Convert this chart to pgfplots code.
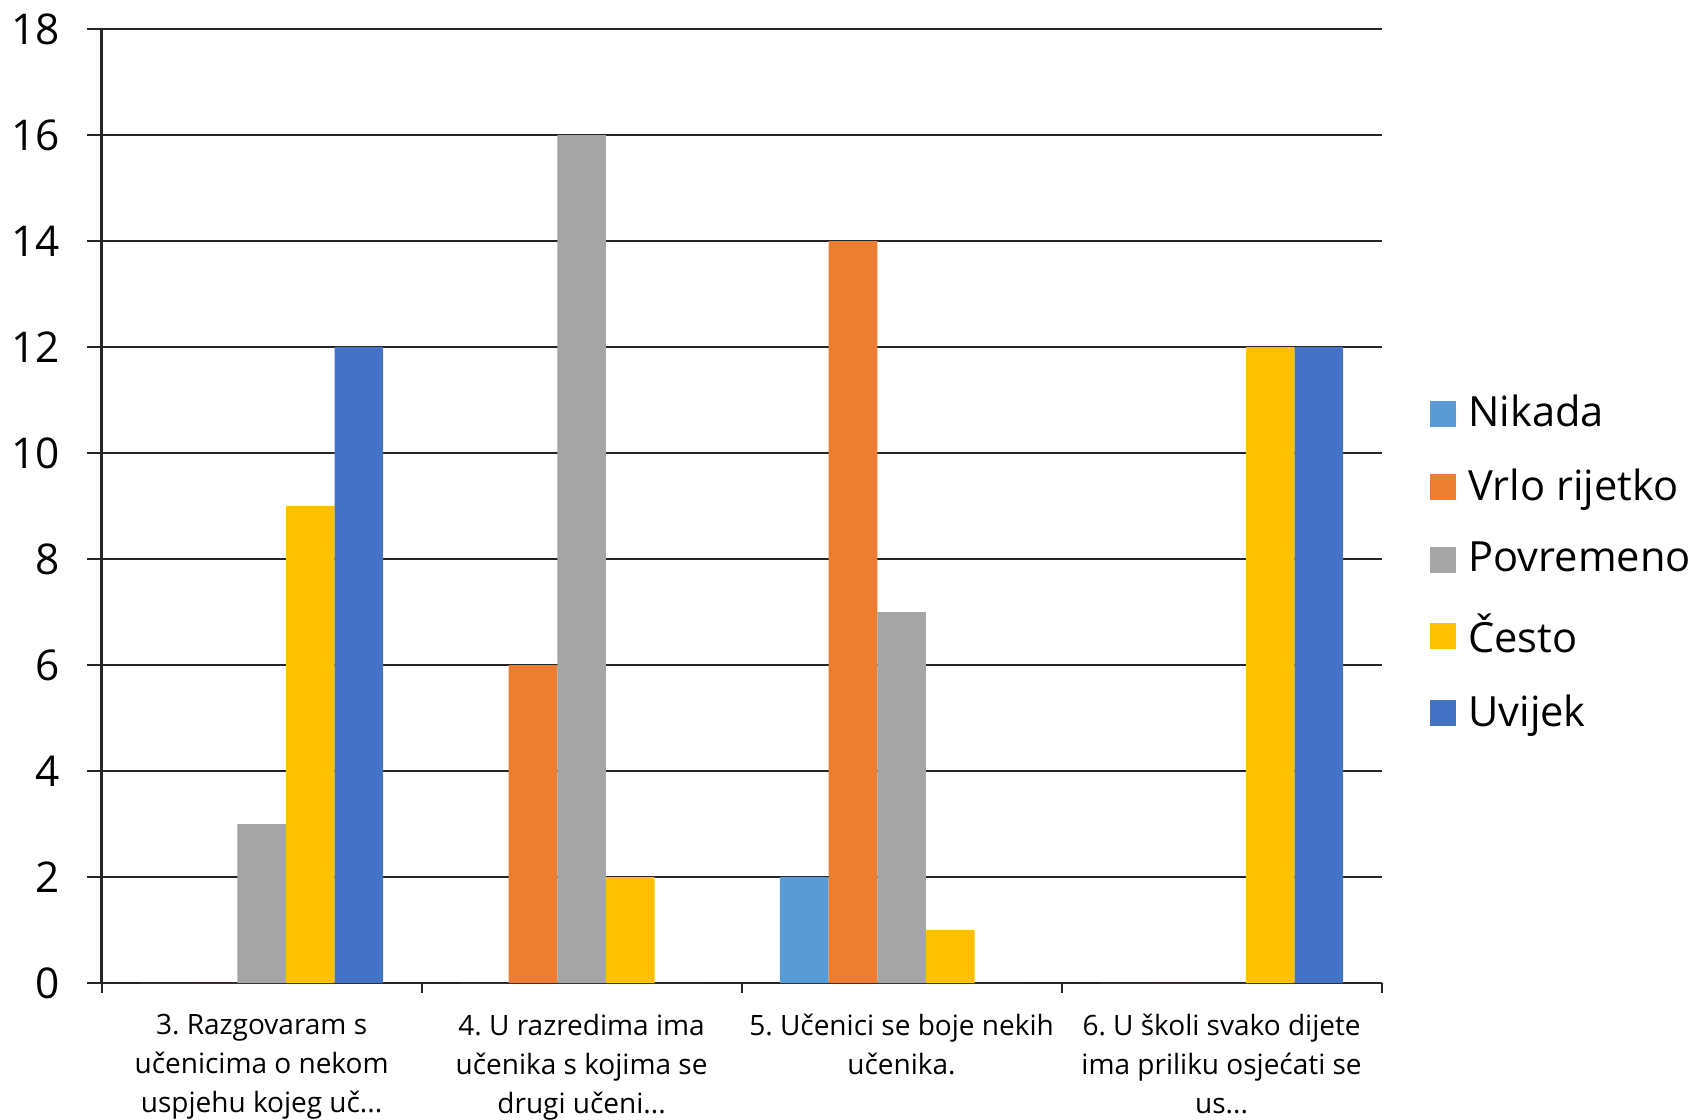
\documentclass[border=0pt]{standalone}
\usepackage{fontspec}
\setmainfont{Open Sans}
\usepackage{pgfplots}
\pgfplotsset{compat=1.18}
\definecolor{cNik}{HTML}{5B9BD5}
\definecolor{cVrl}{HTML}{ED7D31}
\definecolor{cPov}{HTML}{A5A5A5}
\definecolor{cCes}{HTML}{FFC000}
\definecolor{cUvi}{HTML}{4472C4}
\newcommand{\dd}{.\kern0pt.\kern0pt.}
\newcommand{\legtxt}[1]{\hspace{1pt}#1}
\frenchspacing
\begin{document}
\begin{tikzpicture}
\begin{axis}[
  at={(0,0)}, anchor=south west,
  scale only axis,
  width=320pt, height=238.5pt,
  ybar=0pt,
  bar width=0.152,
  xmin=-0.5, xmax=3.5,
  ymin=0, ymax=18,
  ytick={0,2,4,6,8,10,12,14,16,18},
  xtick={-0.5,0.5,1.5,2.5,3.5},
  x tick label as interval,
  xticklabels={{3. Razgovaram s\\učenicima o nekom\\uspjehu kojeg uč\dd},
               {4. U razredima ima\\učenika s kojima se\\drugi učeni\dd},
               {5. Učenici se boje nekih\\učenika.},
               {6. U školi svako dijete\\ima priliku osjećati se\\us\dd}},
  axis lines=left,
  axis line style={-, black!85, line width=0.6pt},
  tick align=outside,
  ymajorgrids,
  major grid style={black!85, line width=0.5pt},
  ytick style={black!85, line width=0.5pt, /pgfplots/major tick length=3.6pt},
  xtick style={black!85, line width=0.5pt, /pgfplots/major tick length=2.5pt},
  /pgf/number format/assume math mode=true,
  yticklabel style={font=\fontsize{10.6}{12}\selectfont, xshift=-2.6pt},
  xticklabel style={font=\fontsize{7}{9.7}\selectfont, align=center, yshift=0pt, anchor=north},
  legend style={at={(1.0375,0.44)}, anchor=west, draw=none, font=\fontsize{10.4}{12}\selectfont,
     row sep=5pt, inner sep=0pt, cells={anchor=west}},
  legend image code/.code={\fill[#1] (0pt,-3.25pt) rectangle (6.5pt,3.25pt);},
  every axis plot/.append style={draw=none},
]
\addplot[fill=cNik, bar shift=-0.304] coordinates {(0,0) (1,0) (2,2) (3,0)};
\addplot[fill=cVrl, bar shift=-0.152] coordinates {(0,0) (1,6) (2,14) (3,0)};
\addplot[fill=cPov, bar shift=0] coordinates {(0,3) (1,16) (2,7) (3,0)};
\addplot[fill=cCes, bar shift=0.152] coordinates {(0,9) (1,2) (2,1) (3,12)};
\addplot[fill=cUvi, bar shift=0.304] coordinates {(0,12) (1,0) (2,0) (3,12)};
\legend{\legtxt{Nikada}, \legtxt{Vrlo rijetko}, \legtxt{Povremeno}, \legtxt{Često}, \legtxt{Uvijek}}
\end{axis}
\pgfresetboundingbox
\path (-25.4pt,-34.2pt) rectangle (398.6pt,245.8pt);
\end{tikzpicture}
\end{document}
